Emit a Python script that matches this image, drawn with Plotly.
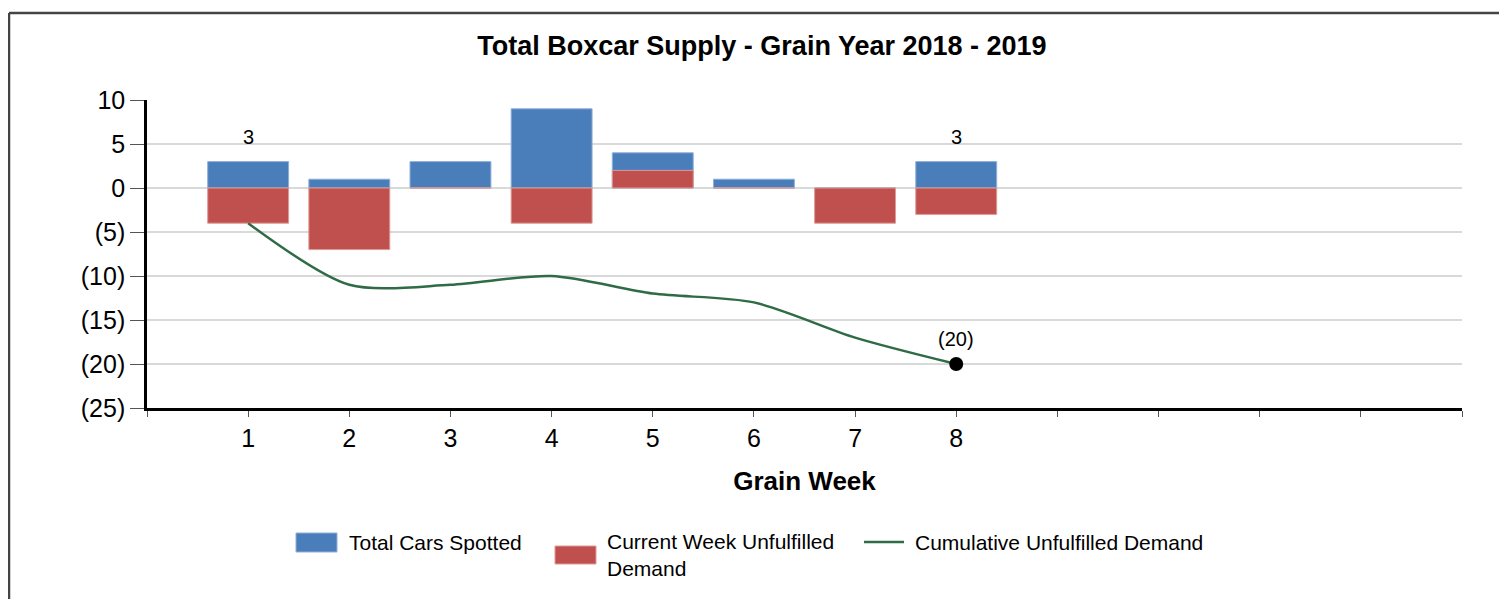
import plotly.graph_objects as go

weeks = [1, 2, 3, 4, 5, 6, 7, 8]
cars_spotted = [3, 1, 3, 9, 4, 1, 0, 3]
week_unfulfilled = [-4, -7, 0, -4, 2, 0, -4, -3]
cum_unfulfilled = [-4, -11, -11, -10, -12, -13, -17, -20]

y_ticks = [10, 5, 0, -5, -10, -15, -20, -25]
x_ticks = list(range(0, 14))

series_names = ["Total Cars Spotted", "Current Week Unfulfilled<br>Demand",
                "Cumulative Unfulfilled Demand"]
BLUE, RED, GREEN = "#4A7EBB", "#C0504D", "#2F6B45"


def fmt(v):
    return "(%d)" % abs(v) if v < 0 else "%d" % v


FONT = "Liberation Sans, Arial, sans-serif"
# page body has an 8px margin, so margins are set 8px smaller
L, T, PW, PH = 139, 92, 1315, 308


def px(sx, sy):  # screen pixel -> paper coords
    return (sx - 8 - L) / PW, 1 - (sy - 8 - T) / PH


fig = go.Figure()
fig.add_trace(go.Bar(
    name=series_names[0], x=weeks, y=cars_spotted,
    marker=dict(color=BLUE, line=dict(color="#8FB0DA", width=1)),
    width=0.8,
))
fig.add_trace(go.Bar(
    name=series_names[1], x=weeks, y=week_unfulfilled,
    marker=dict(color=RED, line=dict(color="#DE9A98", width=1)),
    width=0.8,
))
fig.add_trace(go.Scatter(
    name=series_names[2], x=weeks, y=cum_unfulfilled,
    mode="lines+markers",
    line=dict(color=GREEN, width=2.5, shape="spline", smoothing=0.8),
    marker=dict(color="#000000", size=[0] * (len(weeks) - 1) + [14],
                line=dict(width=0), opacity=1),
))

# labels on first and last week
for i in (0, len(weeks) - 1):
    fig.add_annotation(x=weeks[i], y=cars_spotted[i], text=fmt(cars_spotted[i]),
                       showarrow=False, yshift=25, font=dict(size=20))
fig.add_annotation(x=weeks[-1], y=cum_unfulfilled[-1], text=fmt(cum_unfulfilled[-1]),
                   showarrow=False, yshift=25, font=dict(size=20))

# frame lines of the cropped chart
x0, y0 = px(9, 13)
fig.add_shape(type="line", xref="paper", yref="paper", x0=x0, x1=1.1,
              y0=y0, y1=y0, line=dict(color="#444444", width=2.5))
fig.add_shape(type="line", xref="paper", yref="paper", x0=x0, x1=x0,
              y0=y0, y1=-0.8, line=dict(color="#444444", width=2.5))

# legend
a0, b0 = px(296, 533)
a1, b1 = px(337, 552)
fig.add_shape(type="rect", xref="paper", yref="paper", x0=a0, x1=a1, y0=b0, y1=b1,
              fillcolor=BLUE, line=dict(color="#8FB0DA", width=1))
a0, b0 = px(555, 546)
a1, b1 = px(596, 564)
fig.add_shape(type="rect", xref="paper", yref="paper", x0=a0, x1=a1, y0=b0, y1=b1,
              fillcolor=RED, line=dict(color="#DE9A98", width=1))
a0, b0 = px(864, 542)
a1, _ = px(904, 542)
fig.add_shape(type="line", xref="paper", yref="paper", x0=a0, x1=a1, y0=b0, y1=b0,
              line=dict(color=GREEN, width=2.5))
for (sx, sy), name in zip([(347, 542), (605, 555), (913, 542)], series_names):
    ax, ay = px(sx, sy)
    fig.add_annotation(xref="paper", yref="paper", x=ax, y=ay, text=name,
                       showarrow=False, xanchor="left", yanchor="middle", align="left",
                       font=dict(size=21))

fig.update_layout(
    width=1507, height=599,
    barmode="overlay",
    plot_bgcolor="white", paper_bgcolor="white",
    margin=dict(l=L, r=1507 - L - PW, t=T, b=599 - T - PH),
    font=dict(family=FONT, color="black"),
    title=dict(text="<b>Total Boxcar Supply - Grain Year 2018 - 2019</b>",
               x=0.5003, xanchor="center", y=0.938, yanchor="middle",
               font=dict(size=27)),
    showlegend=False,
)
fig.update_xaxes(
    range=[0, 13], tickmode="array", tickvals=x_ticks,
    ticktext=[str(t) if t in weeks else "" for t in x_ticks],
    showgrid=False, showline=True, linecolor="black", linewidth=2.5,
    ticks="outside", ticklen=6, tickcolor="#555555", tickwidth=1,
    tickfont=dict(size=25),
    title=dict(text="<b>Grain Week</b>", font=dict(size=26), standoff=22),
    zeroline=False,
)
fig.update_yaxes(
    range=[-25, 10], tickmode="array", tickvals=y_ticks,
    ticktext=[fmt(v) for v in y_ticks],
    showgrid=True, gridcolor="#D9D9D9", gridwidth=2,
    showline=True, linecolor="black", linewidth=2.5,
    ticks="outside", ticklen=14, tickcolor="#555555", tickwidth=1,
    tickfont=dict(size=25),
    zeroline=False,
)

fig.write_html("out.html")
